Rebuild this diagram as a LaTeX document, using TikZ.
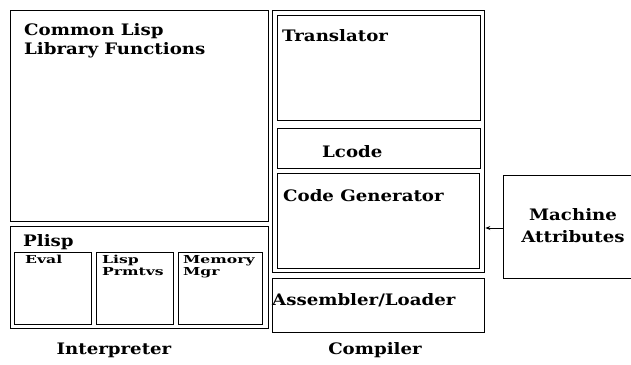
\documentclass[tikz,border=0pt]{standalone}
\usepackage{fontspec}
\setmainfont{DejaVu Serif}
\newfontfamily\bigf[FakeStretch=1.15]{DejaVu Serif}
\newfontfamily\smallf[FakeStretch=1.42]{DejaVu Serif}
\usetikzlibrary{arrows.meta}
\tikzset{
  box/.style={draw, line width=1.3pt, inner sep=0pt, anchor=north west},
  lbl/.style={inner sep=0pt, anchor=base west, font=\bigf\bfseries\fontsize{15.8}{17}\selectfont},
  slbl/.style={inner sep=0pt, anchor=base west, font=\smallf\bfseries\fontsize{11}{12}\selectfont},
}
\begin{document}
\begin{tikzpicture}[x=1pt,y=-1pt]
\useasboundingbox (0,0) rectangle (631,364);
% interpreter side
\node[box, minimum width=258pt, minimum height=211pt] (cl) at (10,10) {};
\node[box, minimum width=258pt, minimum height=102pt] (plisp) at (10,226) {};
\node[box, minimum width=77pt, minimum height=72pt] (eval) at (14,252) {};
\node[box, minimum width=77pt, minimum height=72pt] (prim) at (96,252) {};
\node[box, minimum width=84pt, minimum height=72pt] (mem) at (178,252) {};
% compiler side
\node[box, minimum width=212pt, minimum height=262pt] (comp) at (272,10) {};
\node[box, minimum width=203pt, minimum height=105pt] (trans) at (277,15) {};
\node[box, minimum width=203pt, minimum height=40pt] (lcode) at (277,128) {};
\node[box, minimum width=202pt, minimum height=95pt] (cgen) at (277,173) {};
\node[box, minimum width=212pt, minimum height=54pt] (asm) at (272,278) {};
\node[box, minimum width=135pt, minimum height=103pt] (ma) at (503,175) {};
% texts
\node[lbl] (t1) at (24,35) {Common Lisp};
\node[lbl] (t2) at (24,54) {Library Functions};
\node[lbl] (t3) at (23,246) {Plisp};
\node[slbl] (t4) at (25,263) {Eval};
\node[slbl] (t5) at (102,263) {Lisp};
\node[slbl] (t6) at (102,275) {Prmtvs};
\node[slbl] (t7) at (183,263) {Memory};
\node[slbl] (t8) at (183,275) {Mgr};
\node[lbl] (t9) at (282,41) {Translator};
\node[lbl] (t10) at (322,157) {Lcode};
\node[lbl] (t11) at (283,201) {Code Generator};
\node[lbl] (t12) at (272,305) {Assembler/Loader};
\node[lbl, anchor=base] (t13) at (573,220) {Machine};
\node[lbl, anchor=base] (t14) at (573,242) {Attributes};
\node[lbl, anchor=base] (t15) at (114,354) {Interpreter};
\node[lbl, anchor=base] (t16) at (375,354) {Compiler};
% arrow
\draw[line width=1pt, -{Stealth[length=5pt,width=4pt]}] (ma.west |- 0,228) -- (comp.east |- 0,228);
\end{tikzpicture}
\end{document}
